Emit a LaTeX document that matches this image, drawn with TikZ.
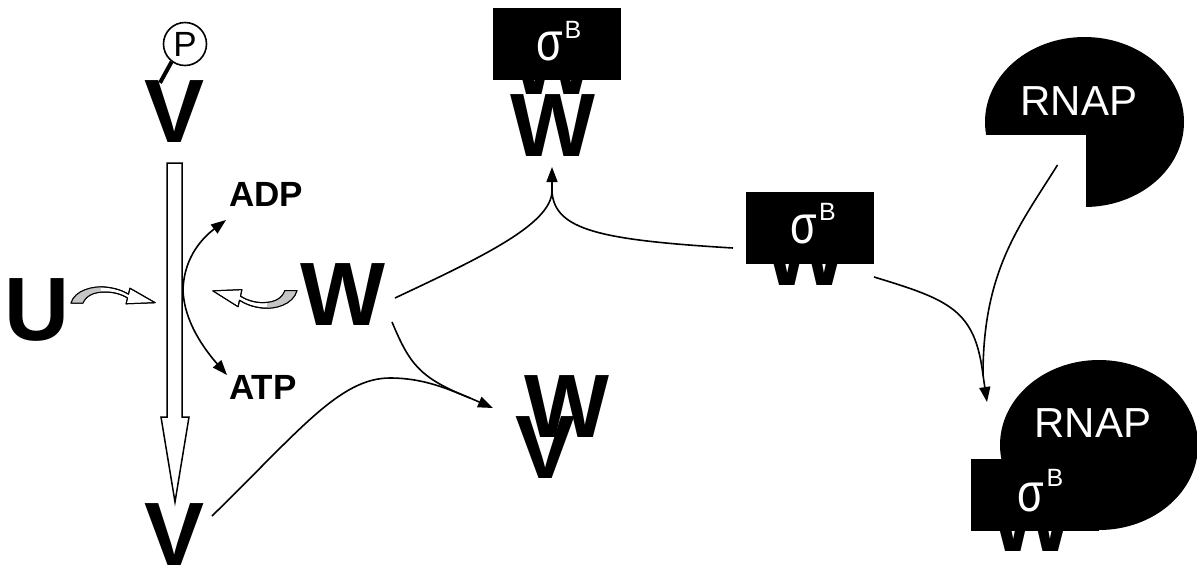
\documentclass[tikz,border=0pt]{standalone}
\usepackage{fontspec}
\setmainfont{Liberation Sans}
\usetikzlibrary{arrows.meta,calc,shapes.geometric}
\begin{document}
\begin{tikzpicture}[x=1pt,y=-1pt,
  big/.style={font=\fontsize{90}{90}\selectfont\bfseries, inner sep=0pt},
  lab/.style={font=\fontsize{35}{35}\selectfont\bfseries, inner sep=0pt},
  conn/.style={line width=1.6pt},
  tip/.style={-{Triangle[length=15pt,width=11pt]}},
  sigbox/.style={fill=black, minimum width=128pt, minimum height=72pt, inner sep=0pt},
  sigtxt/.style={text=white, inner sep=0pt, font=\fontsize{54}{54}\selectfont},
  suptxt/.style={text=white, inner sep=0pt, font=\fontsize{25}{25}\selectfont},
  rnaptxt/.style={text=white, inner sep=0pt, font=\fontsize{42}{42}\selectfont},
  curl/.style={line width=1pt, draw=black, line join=round},
  hollow/.style={line width=1.5pt, draw=black, fill=white},
  curlarrow/.pic={
    \path[curl, fill=white] (-42,5) .. controls (-38,-8) and (-20,-12) .. (-8,-11)
      .. controls (3,-10) and (10,-7) .. (15.5,-3.9) -- (16.9,-9.8) -- (42.2,4.7)
      -- (13.1,5.8) -- (14.5,-0.1)
      .. controls (8,-4) and (0,-6) .. (-8,-6) .. controls (-20,-6) and (-27,-2) .. (-30,5) -- cycle;
    \begin{scope}
      \clip (-42,5) .. controls (-38,-8) and (-20,-12) .. (-8,-11)
      .. controls (3,-10) and (10,-7) .. (15.5,-3.9) -- (16.9,-9.8) -- (42.2,4.7)
      -- (13.1,5.8) -- (14.5,-0.1)
      .. controls (8,-4) and (0,-6) .. (-8,-6) .. controls (-20,-6) and (-27,-2) .. (-30,5) -- cycle;
      \fill[gray!45] (-50,-20) rectangle (-12,20);
    \end{scope}
    \path[curl] (-42,5) .. controls (-38,-8) and (-20,-12) .. (-8,-11)
      .. controls (3,-10) and (10,-7) .. (15.5,-3.9) -- (16.9,-9.8) -- (42.2,4.7)
      -- (13.1,5.8) -- (14.5,-0.1)
      .. controls (8,-4) and (0,-6) .. (-8,-6) .. controls (-20,-6) and (-27,-2) .. (-30,5) -- cycle;
  },
]
\useasboundingbox (0,0) rectangle (1197,566);

% ---- left column ----
\node[big] (U) at (37,310) {U};
\node[big] (Vtop) at (175,112) {V};
\node[big] (Vbot) at (175,535) {V};
\node[big] (W) at (343,295) {W};
\node[circle, draw, line width=1.6pt, minimum size=43pt, inner sep=0pt,
      font=\fontsize{35}{35}\selectfont] (P) at (185,44) {P};
\draw[line width=4pt] (P.233) -- ($(Vtop.north)+(-15,2)$);

% hollow arrow V~P -> V
\draw[hollow] (167,163) -- (182,163) -- (182,417) -- (189,417) -- (175,502)
  -- (161,417) -- (167,417) -- cycle;
\coordinate (shaftR) at (183,290);

\node[lab] (ADP) at (266,194) {ADP};
\node[lab] (ATP) at (263,387) {ATP};
\draw[conn,tip] (shaftR) .. controls (184,255) and (205,236) .. ($(ADP)+(-40,26)$);
\draw[conn,tip] (shaftR) .. controls (184,322) and (205,350) .. ($(ATP)+(-36,-12)$);

% curly arrows
\pic at (113,298) {curlarrow};
\pic[rotate=180, yscale=1.1] at (255,296) {curlarrow};

% ---- top middle complex ----
\node[big, anchor=south] (Wtl) at (553,95) {W};
\node[sigbox] (sigT) at (557,44) {};
\node[sigtxt] (sigTs) at ($(sigT)+(-7,2)$) {\scalebox{0.8}[1]{σ}};
\node[suptxt] (sigTb) at ($(sigT)+(16,-14)$) {B};
\node[big] (Wtop) at (553,126) {W};

% ---- middle sigma box ----
\node[big, anchor=south] (Wml) at (806,286) {W};
\node[sigbox] (sigM) at (810,228) {};
\node[sigtxt] (sigMs) at ($(sigM)+(-6.5,1.5)$) {\scalebox{0.8}[1]{σ}};
\node[suptxt] (sigMb) at ($(sigM)+(17.5,-16.5)$) {B};

% ---- W V pair ----
\node[big] (W2) at (567,407) {W};
\node[big] (V2) at (546,448) {V};

% ---- RNAP top (pacman) ----
\coordinate (rnapT) at (1084.5,122);
\fill[black] (rnapT) ellipse [x radius=99.5, y radius=85];
\fill[white] (980,135) rectangle (1086,212);
\node[rnaptxt] (rnapTt) at (1079,101) {RNAP};

% ---- RNAP bottom complex ----
\coordinate (rnapB) at (1099,445);
\fill[black] (rnapB) ellipse [x radius=99, y radius=85];
\node[rnaptxt] (rnapBt) at (1093,423) {RNAP};
\node[big, anchor=south] (Wbl) at (1032,552) {W};
\node[sigbox] (sigB) at (1035,494.5) {};
\node[sigtxt] (sigBs) at ($(sigB)+(-4,2.5)$) {\scalebox{0.8}[1]{σ}};
\node[suptxt] (sigBb) at ($(sigB)+(20,-16.5)$) {B};

% ---- connectors ----
\coordinate (M1) at (552,192);
\draw[conn] ($(W)+(52,3)$) .. controls (480,258) and (550,225) .. (M1);
\draw[conn] ($(sigM)+(-77,20)$) .. controls (600,240) and (555,230) .. (M1);
\draw[conn,tip] (M1) -- ($(Wtop)+(-1,41)$);

\coordinate (M2) at (470,398);
\draw[conn] ($(W)+(49,27)$) .. controls (410,365) and (420,378) .. (M2);
\draw[conn] ($(Vbot)+(37,-19)$) .. controls (300,430) and (340,378) .. (390,378)
  .. controls (425,378) and (450,390) .. (M2);
\draw[conn,tip] (M2) -- ($(W2)+(-74,1)$);

\coordinate (M3) at (983,375);
\draw[conn] ($(sigM)+(64,49)$) .. controls (950,300) and (975,310) .. (M3);
\draw[conn] ($(rnapT)+(-27,43)$) .. controls (1020,225) and (983,270) .. (M3);
\draw[conn,tip] (M3) -- ($(rnapB)+(-112,-43)$);
\end{tikzpicture}
\end{document}
